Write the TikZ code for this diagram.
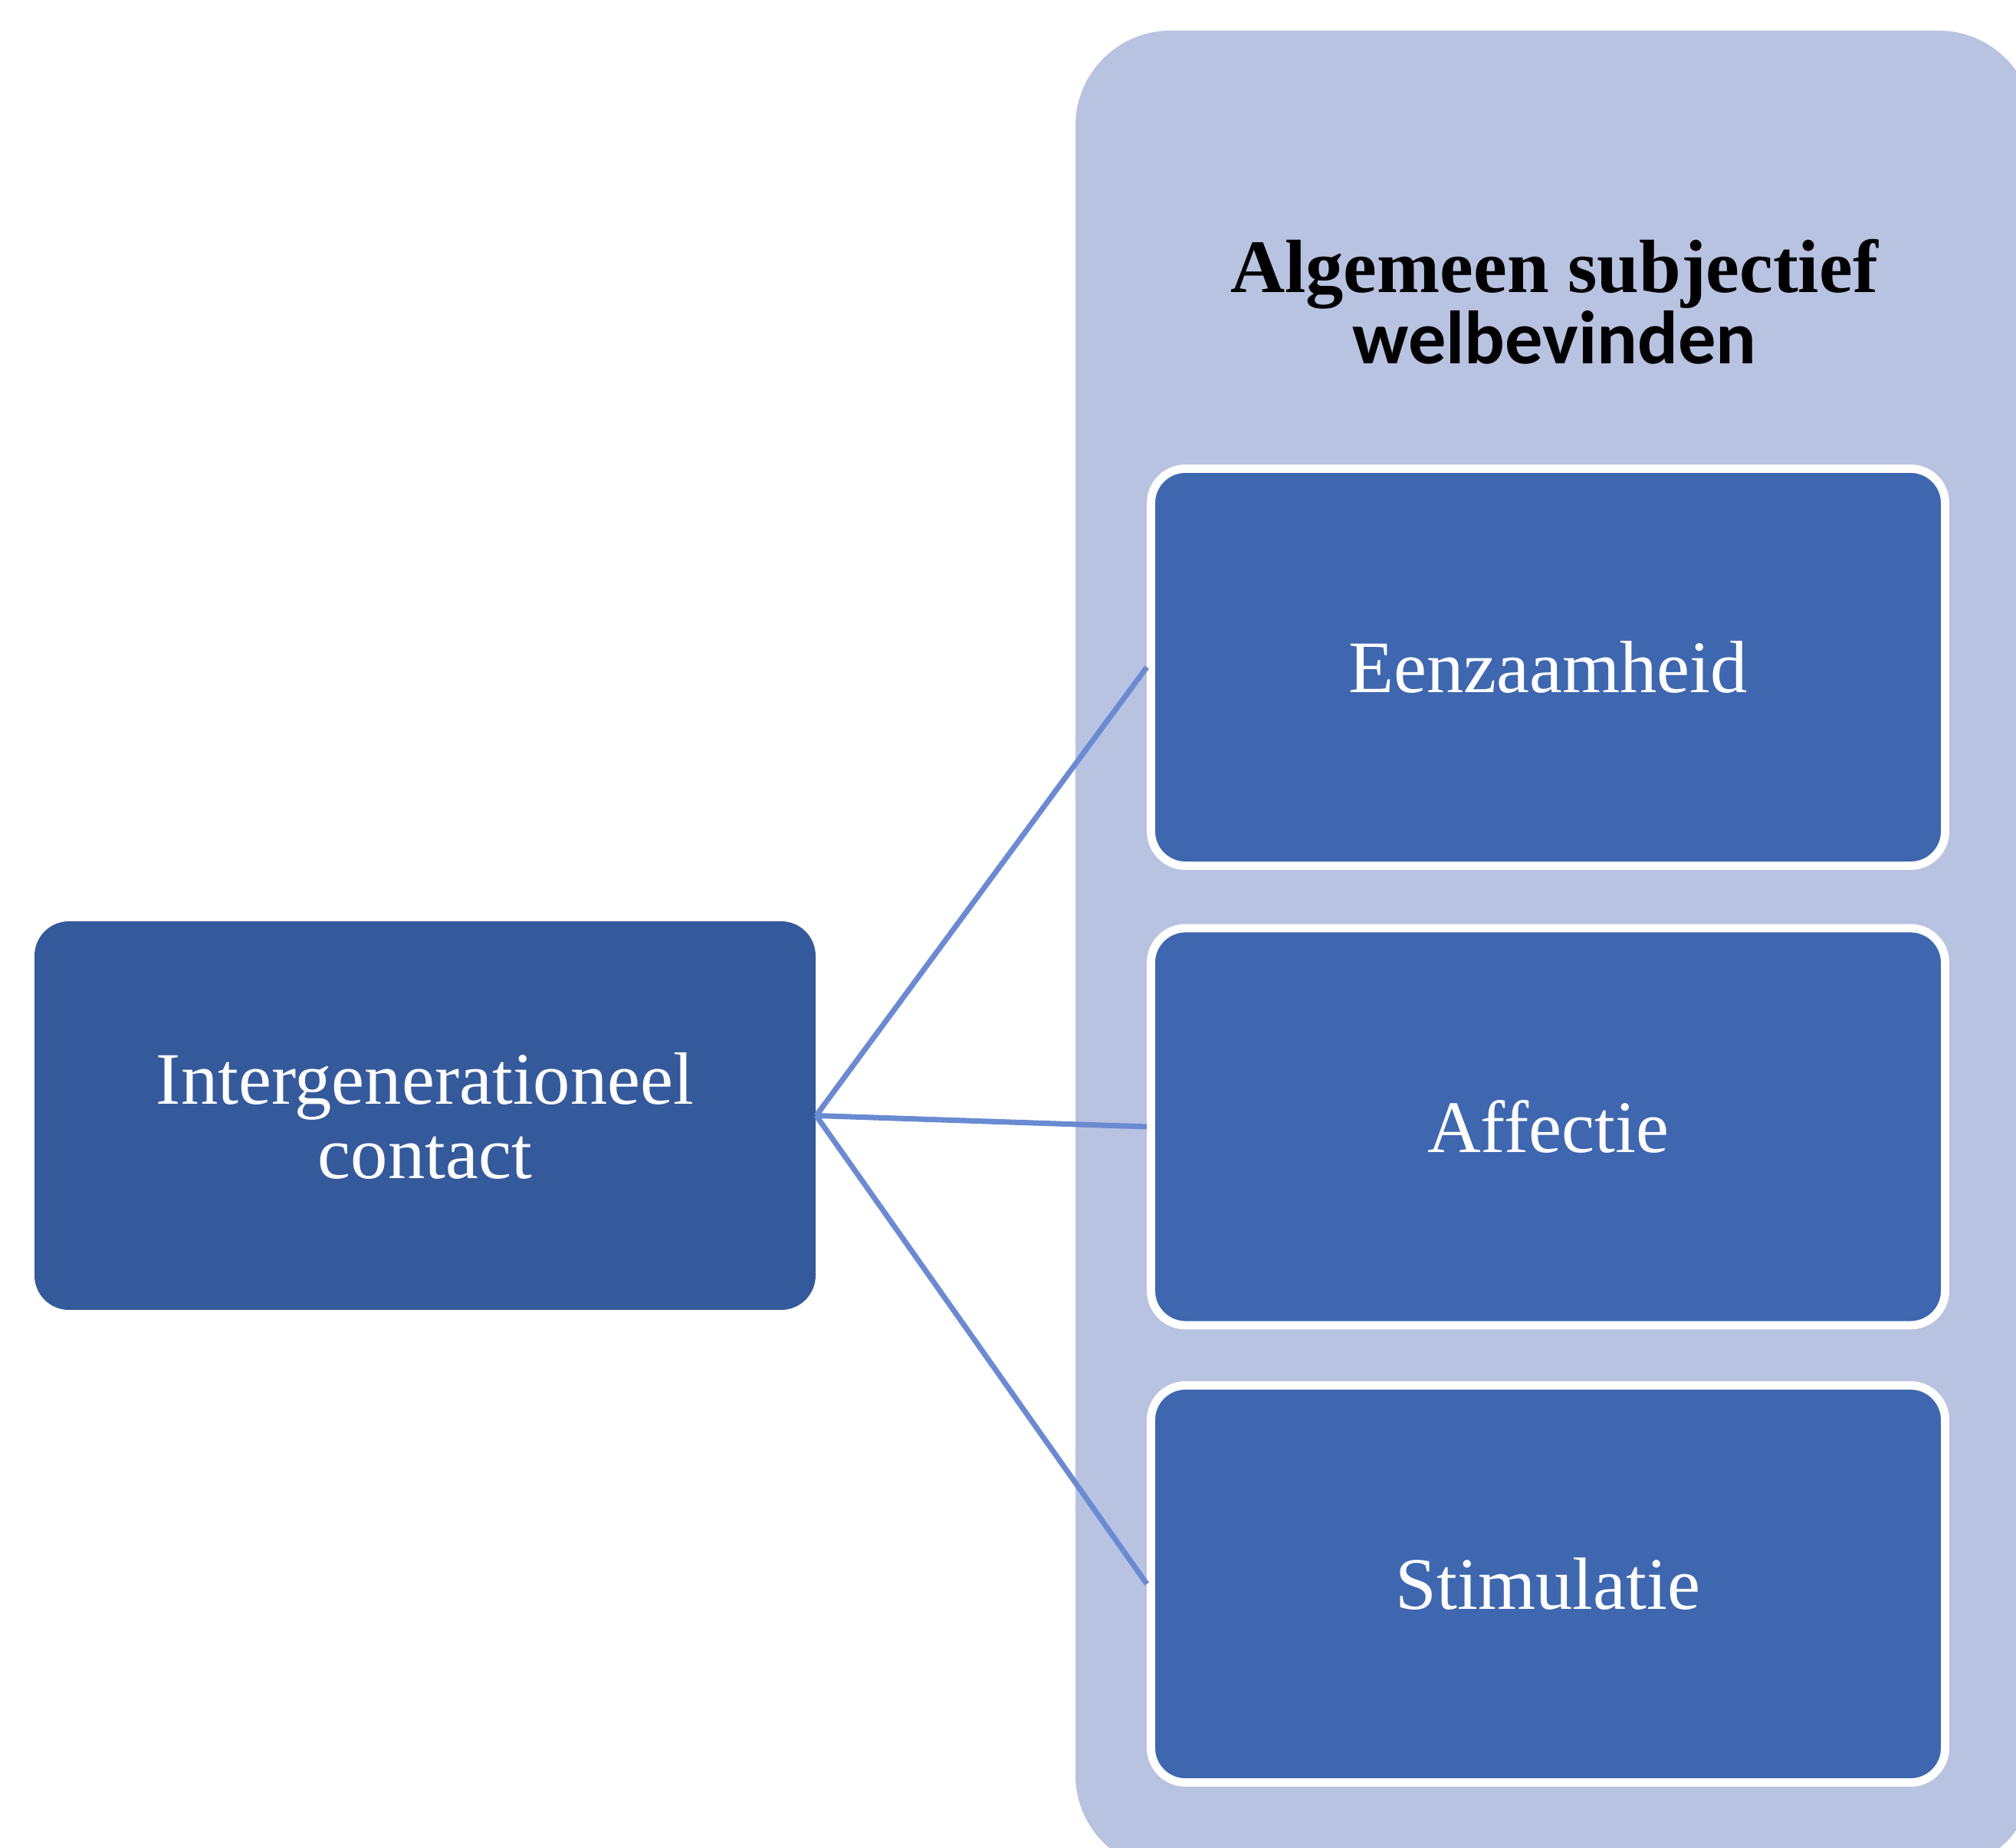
\documentclass[tikz,border=0pt]{standalone}
\usepackage{fontspec}
\setmainfont{Liberation Serif}
\newfontfamily\calibrifont{Carlito}

\definecolor{panelblue}{HTML}{B8C3E1}
\definecolor{boxblue}{HTML}{3E67B0}
\definecolor{darkblue}{HTML}{355A9C}
\definecolor{linkblue}{HTML}{6A8AD2}

\begin{document}
\begin{tikzpicture}[
  subbox/.style={draw=white, line width=3.1pt, fill=boxblue, rounded corners=0.45cm,
    minimum width=10.36cm, minimum height=5.18cm, text=white,
    font=\fontsize{27.5}{27.6}\selectfont},
  mainbox/.style={fill=darkblue, rounded corners=0.45cm, minimum width=10.19cm,
    minimum height=5.07cm, text=white, align=center,
    font=\fontsize{27.5}{27.6}\selectfont},
  link/.style={draw=linkblue, line width=2pt}]
  \useasboundingbox (0,0) rectangle (26.3,24.1);
  \clip (0,0) rectangle (26.3,24.1);

  % outer panel
  \fill[panelblue, rounded corners=1.24cm] (14.03,-0.3) rectangle (26.53,23.70);
  \node[align=center, font=\fontsize{28}{26.5}\selectfont] (title) at (20.28,20.16)
    {\textbf{Algemeen subjectief}\\{\calibrifont\bfseries welbevinden}};

  \node[mainbox] (contact) at (5.545,9.545) {Intergenerationeel\\contact};
  \node[subbox] (eenzaam) at (20.195,15.395) {Eenzaamheid};
  \node[subbox] (affectie) at (20.195,9.40) {Affectie};
  \node[subbox] (stimul) at (20.195,3.435) {Stimulatie};

  \draw[link] (contact.east) -- (eenzaam.west);
  \draw[link] (contact.east) -- (affectie.west);
  \draw[link] (contact.east) -- (stimul.west);
\end{tikzpicture}
\end{document}
